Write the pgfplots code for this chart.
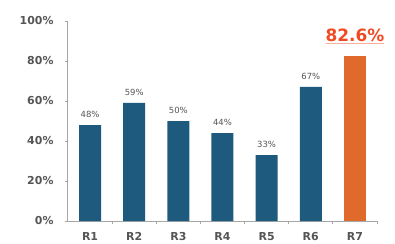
\documentclass[border=0pt]{standalone}
\usepackage{pgfplots}
\pgfplotsset{compat=1.18}
\usepackage{fontspec}
\setmainfont{DejaVu Sans}
\definecolor{barblue}{HTML}{1D5A7E}
\definecolor{barorange}{HTML}{E0692C}
\definecolor{hl}{HTML}{F04A23}
\definecolor{axgray}{HTML}{A6A6A6}
\definecolor{txt}{HTML}{555555}
\newcommand\hlul[1]{\sbox0{#1}\rlap{\color{hl!45}\rule[-2.5bp]{\wd0}{1.6bp}}\usebox0}
\begin{document}
\begin{tikzpicture}
\useasboundingbox (-68bp,-23bp) rectangle (327bp,221bp);
\begin{axis}[
  at={(0,0)}, anchor=south west,
  scale only axis, width=309bp, height=200bp,
  xmin=-0.5, xmax=6.5, ymin=0, ymax=100,
  /pgf/number format/assume math mode=true,
  axis lines*=left,
  axis line style={axgray, line width=1bp, -},
  xtick={0,...,6}, xticklabels={R1,R2,R3,R4,R5,R6,R7},
  minor xtick={0.5,1.5,...,6.5},
  major x tick style={draw=none},
  minor x tick style={axgray, line width=0.8bp},
  minor tick length=3bp,
  ytick={0,20,...,100},
  yticklabel={\pgfmathprintnumber{\tick}\%},
  y tick style={axgray, line width=0.8bp},
  major tick length=3bp,
  tick align=outside,
  tick label style={font=\bfseries\fontsize{11}{13}\selectfont, text=txt},
  x tick label style={yshift=-5bp},
  y tick label style={xshift=-8bp},
  clip=false,
]
\addplot[ybar, bar shift=0pt, bar width=22bp, fill=barblue, draw=none,
  nodes near coords={\pgfmathprintnumber{\pgfplotspointmeta}\%},
  nodes near coords style={font=\fontsize{8.5}{10}\selectfont, text=txt, yshift=4bp}]
  coordinates {(0,48) (1,59) (2,50) (3,44) (4,33) (5,67)};
\addplot[ybar, bar shift=0pt, bar width=22bp, fill=barorange, draw=none,
  nodes near coords={\hlul{82.6\%}},
  nodes near coords style={font=\bfseries\fontsize{17}{19}\selectfont, text=hl, yshift=8bp}]
  coordinates {(6,82.6)};
\end{axis}
\end{tikzpicture}
\end{document}
